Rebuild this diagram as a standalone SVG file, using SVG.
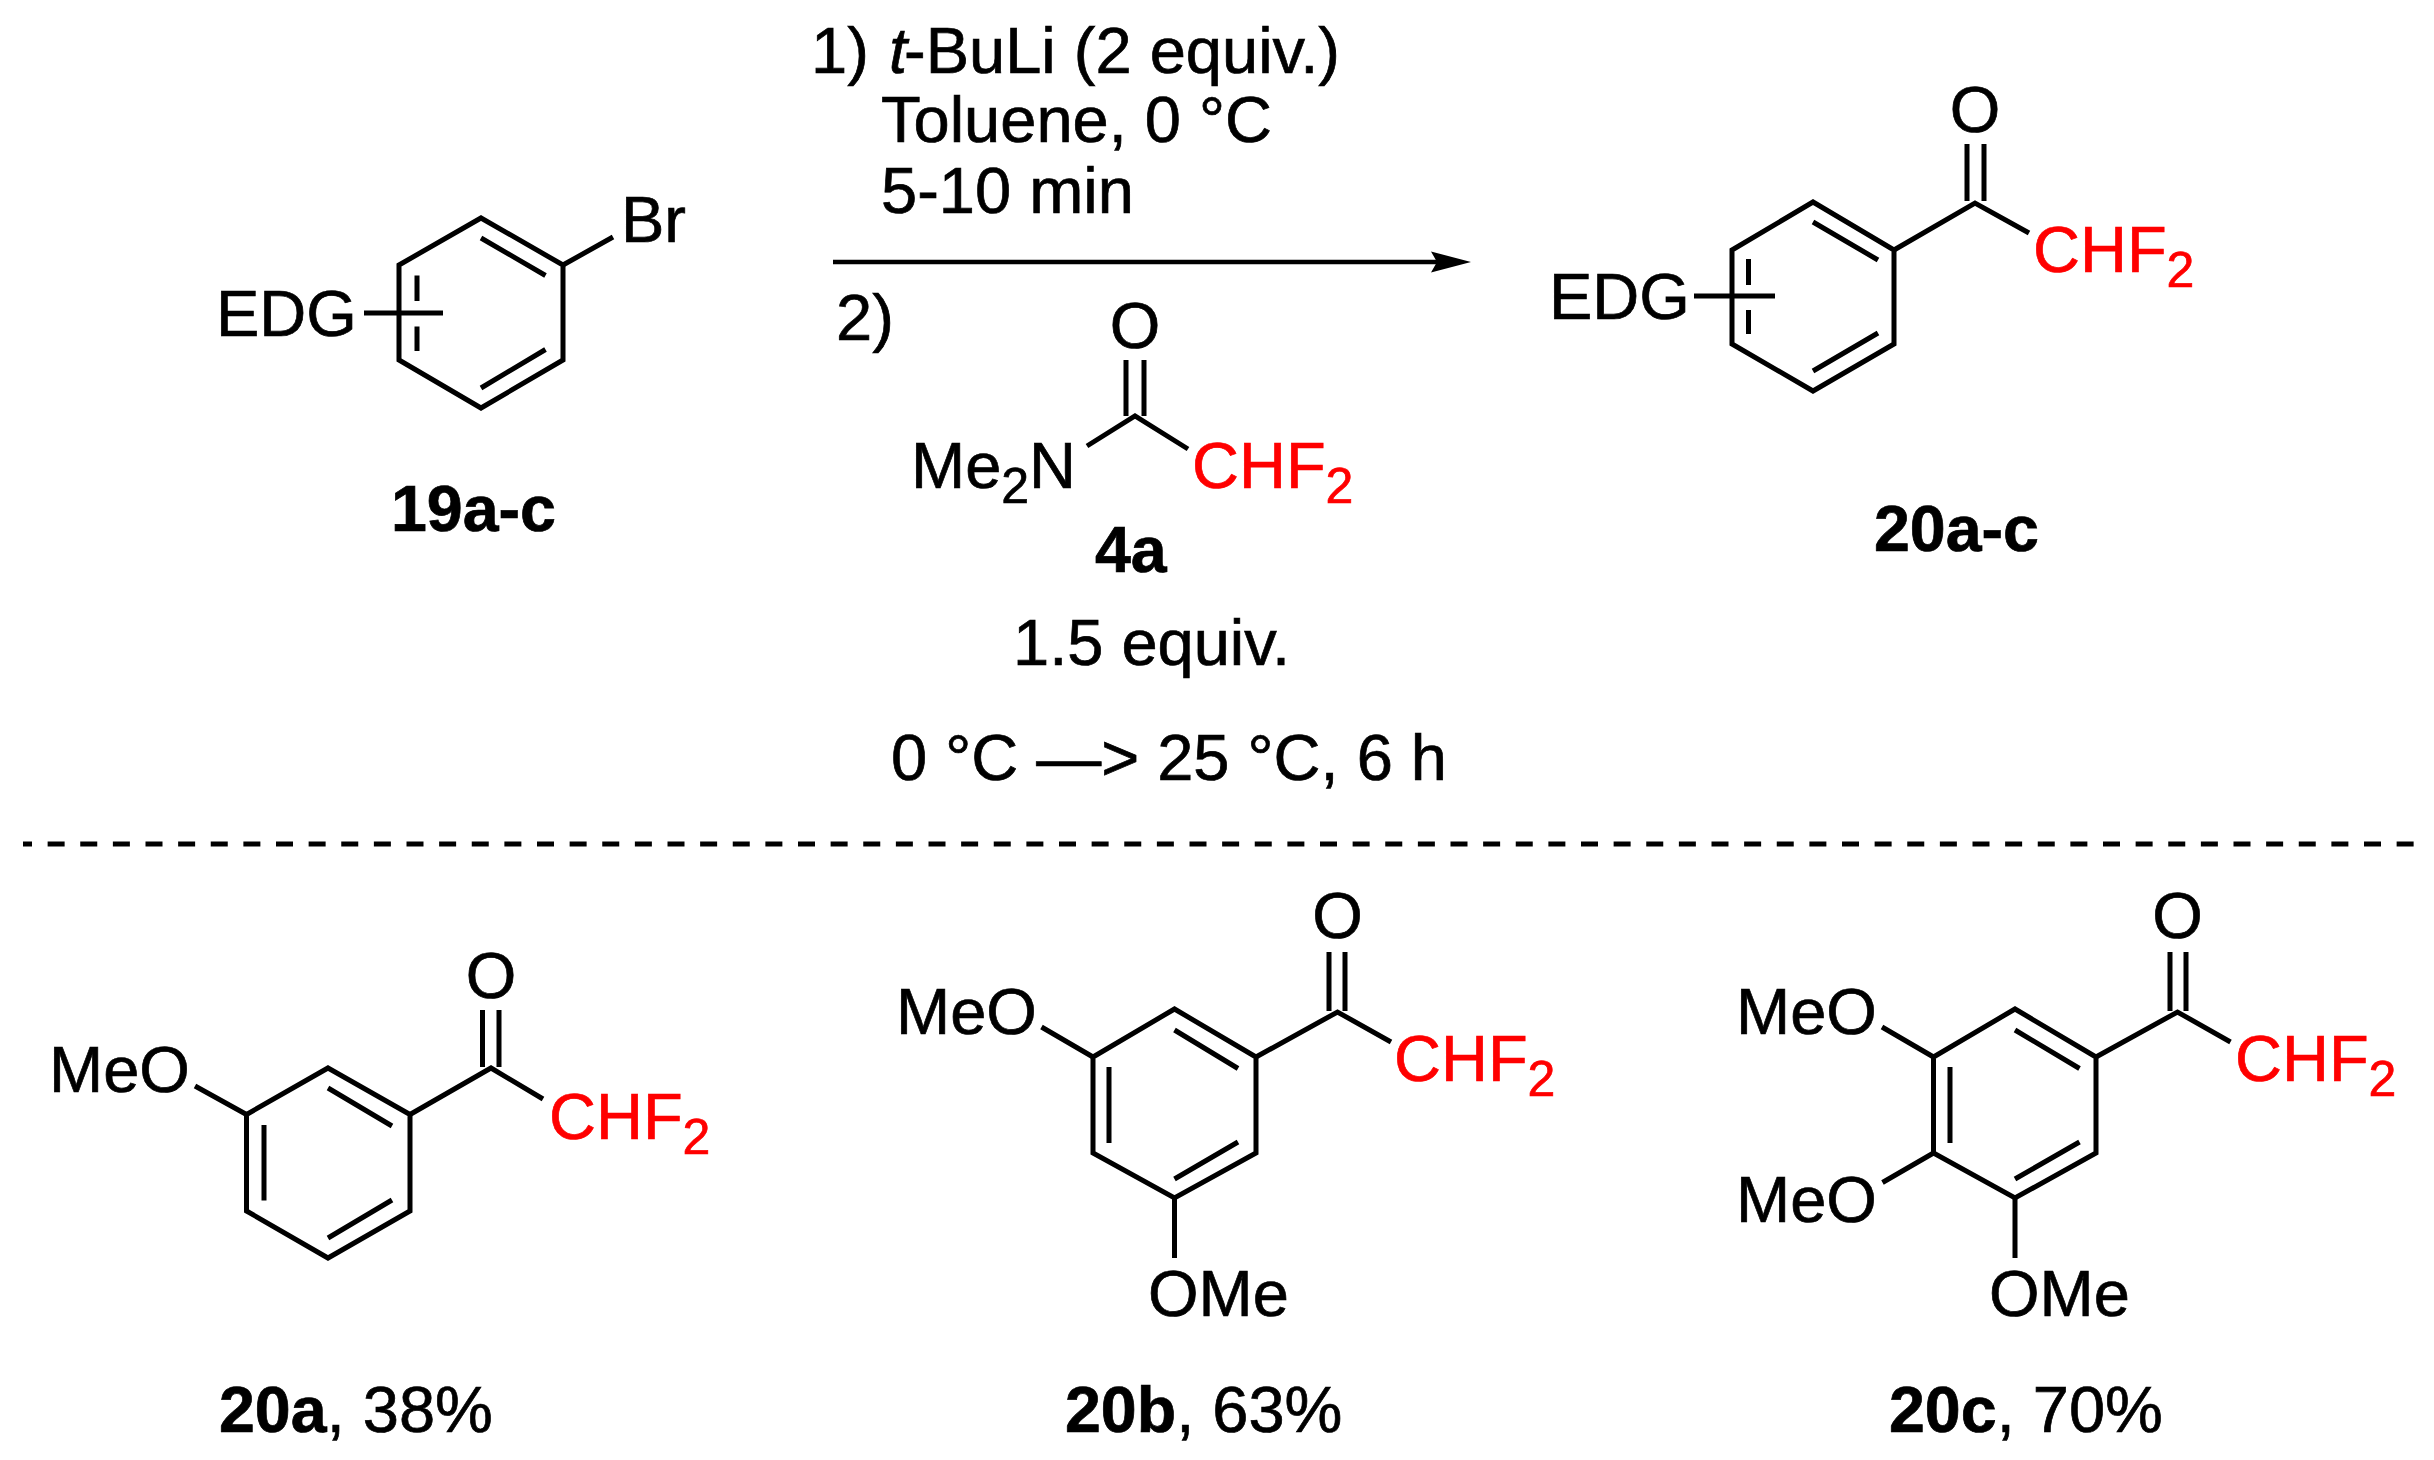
<svg xmlns="http://www.w3.org/2000/svg" width="2434" height="1460" viewBox="0 0 2434 1460">
<defs>
<style>
text{font-family:"Liberation Sans",Arial,sans-serif;font-size:65px;fill:#000;stroke:#000;stroke-width:.7px}
.b{font-weight:700;font-size:64.500px}
.r{fill:#f00;stroke:#f00}
.s{font-size:50px}
.i{font-style:italic}
.bond{fill:none;stroke:#000;stroke-width:5;stroke-linecap:butt;stroke-linejoin:miter}
</style>
<marker id="head" markerUnits="userSpaceOnUse" markerWidth="42" markerHeight="24" refX="26" refY="12" orient="auto">
<path d="M0 1.500L40 12L0 22.500L6 12Z" fill="#000"/>
</marker>
</defs>
<rect width="2434" height="1460" fill="#fff"/>
<g id="connectors">
<line id="reaction-arrow" x1="833" y1="262" x2="1457" y2="262" stroke="#000" stroke-width="4.500" marker-end="url(#head)"/>
<line id="divider" x1="23" y1="844" x2="2415" y2="844" stroke="#000" stroke-width="5" stroke-dasharray="17 15.625" stroke-dashoffset="8"/>
</g>
<g id="node-19a-c">
<path class="bond" d="M481 218L563 265V360L481 408L399 360V265Z"/>
<path class="bond" d="M563 265L613 237M481 238L545.500 275.500M481 388L545.500 349.500M417 275.500V301M417 326.500V351M364 313H443"/>
<text x="621" y="242">Br</text>
<text x="216" y="336">EDG</text>
<text class="b" x="391" y="531">19a-c</text>
</g>
<g id="node-conditions">
<text x="811" y="73">1)</text>
<text x="889" y="73"><tspan class="i">t</tspan><tspan dx="-3">-BuLi (2 equiv.)</tspan></text>
<text x="881" y="142">Toluene, 0 °C</text>
<text x="881" y="213">5-10 min</text>
<text x="836" y="340">2)</text>
<text x="1013" y="665">1.5 equiv.</text>
<text x="891" y="780">0 °C —&gt; 25 °C, 6 h</text>
</g>
<g id="node-4a">
<path class="bond" d="M1126 360V416M1144 360V416M1087 446L1135 416L1188 449"/>
<text x="1135" y="348" text-anchor="middle">O</text>
<text x="911" y="488">Me<tspan class="s" dy="15">2</tspan><tspan dy="-15">N</tspan></text>
<text class="r" x="1192" y="488">CHF<tspan class="s" dy="15">2</tspan></text>
<text class="b" x="1095" y="572">4a</text>
</g>
<g id="node-20a-c">
<path class="bond" d="M1813 202L1894 250V344L1813 391L1732 344V250Z"/>
<path class="bond" d="M1894 250L1975 203L2029 233M1967 144V201M1984 144V201M1813 222L1878 260M1813 371L1878 333M1748.500 259V285M1748.500 310V334M1694 296H1775"/>
<text x="1975" y="132" text-anchor="middle">O</text>
<text class="r" x="2033" y="272">CHF<tspan class="s" dy="15">2</tspan></text>
<text x="1549" y="319">EDG</text>
<text class="b" x="1874" y="551">20a-c</text>
</g>
<g id="node-20a">
<path class="bond" d="M328 1068L410 1114.500V1211L328 1258L246.500 1211V1114.500Z"/>
<path class="bond" d="M410 1114.500L491 1068L543 1099M482.500 1010V1067M499 1010V1067M195 1086L246.500 1114.500M264 1125V1200.500M328 1088L392 1126M328 1238L392 1200"/>
<text x="491" y="998" text-anchor="middle">O</text>
<text class="r" x="549" y="1139">CHF<tspan class="s" dy="15">2</tspan></text>
<text x="49" y="1092">MeO</text>
<text x="219" y="1432"><tspan class="b">20a</tspan>, 38%</text>
</g>
<g id="node-20b">
<path class="bond" d="M1174.500 1009L1256 1057V1153L1174.500 1198L1093 1153V1057Z"/>
<path class="bond" d="M1256 1057L1337.500 1012L1391 1042M1329 952V1011M1345 952V1011M1041.500 1027L1093 1057M1174.500 1198V1258M1109 1067V1143M1174.500 1030L1238 1068.500M1174.500 1179L1238 1142"/>
<text x="1337.500" y="938" text-anchor="middle">O</text>
<text class="r" x="1394" y="1081">CHF<tspan class="s" dy="15">2</tspan></text>
<text x="896" y="1034">MeO</text>
<text x="1148" y="1316">OMe</text>
<text x="1065" y="1432"><tspan class="b">20b</tspan>, 63%</text>
</g>
<g id="node-20c">
<path class="bond" d="M2015 1009L2096 1057V1153L2015 1198L1933.500 1153V1057Z"/>
<path class="bond" d="M2096 1057L2177.500 1012L2230.500 1042M2170 952V1011M2186 952V1011M1882 1027L1933.500 1057M1882.500 1182.500L1933.500 1153M2015 1198V1258M1950 1067V1143M2015 1030L2079.500 1068.500M2015 1179L2079.500 1142"/>
<text x="2177.500" y="938" text-anchor="middle">O</text>
<text class="r" x="2235" y="1081">CHF<tspan class="s" dy="15">2</tspan></text>
<text x="1736" y="1034">MeO</text>
<text x="1736" y="1222">MeO</text>
<text x="1989" y="1316">OMe</text>
<text x="1889" y="1432"><tspan class="b">20c</tspan>, 70%</text>
</g>
</svg>
